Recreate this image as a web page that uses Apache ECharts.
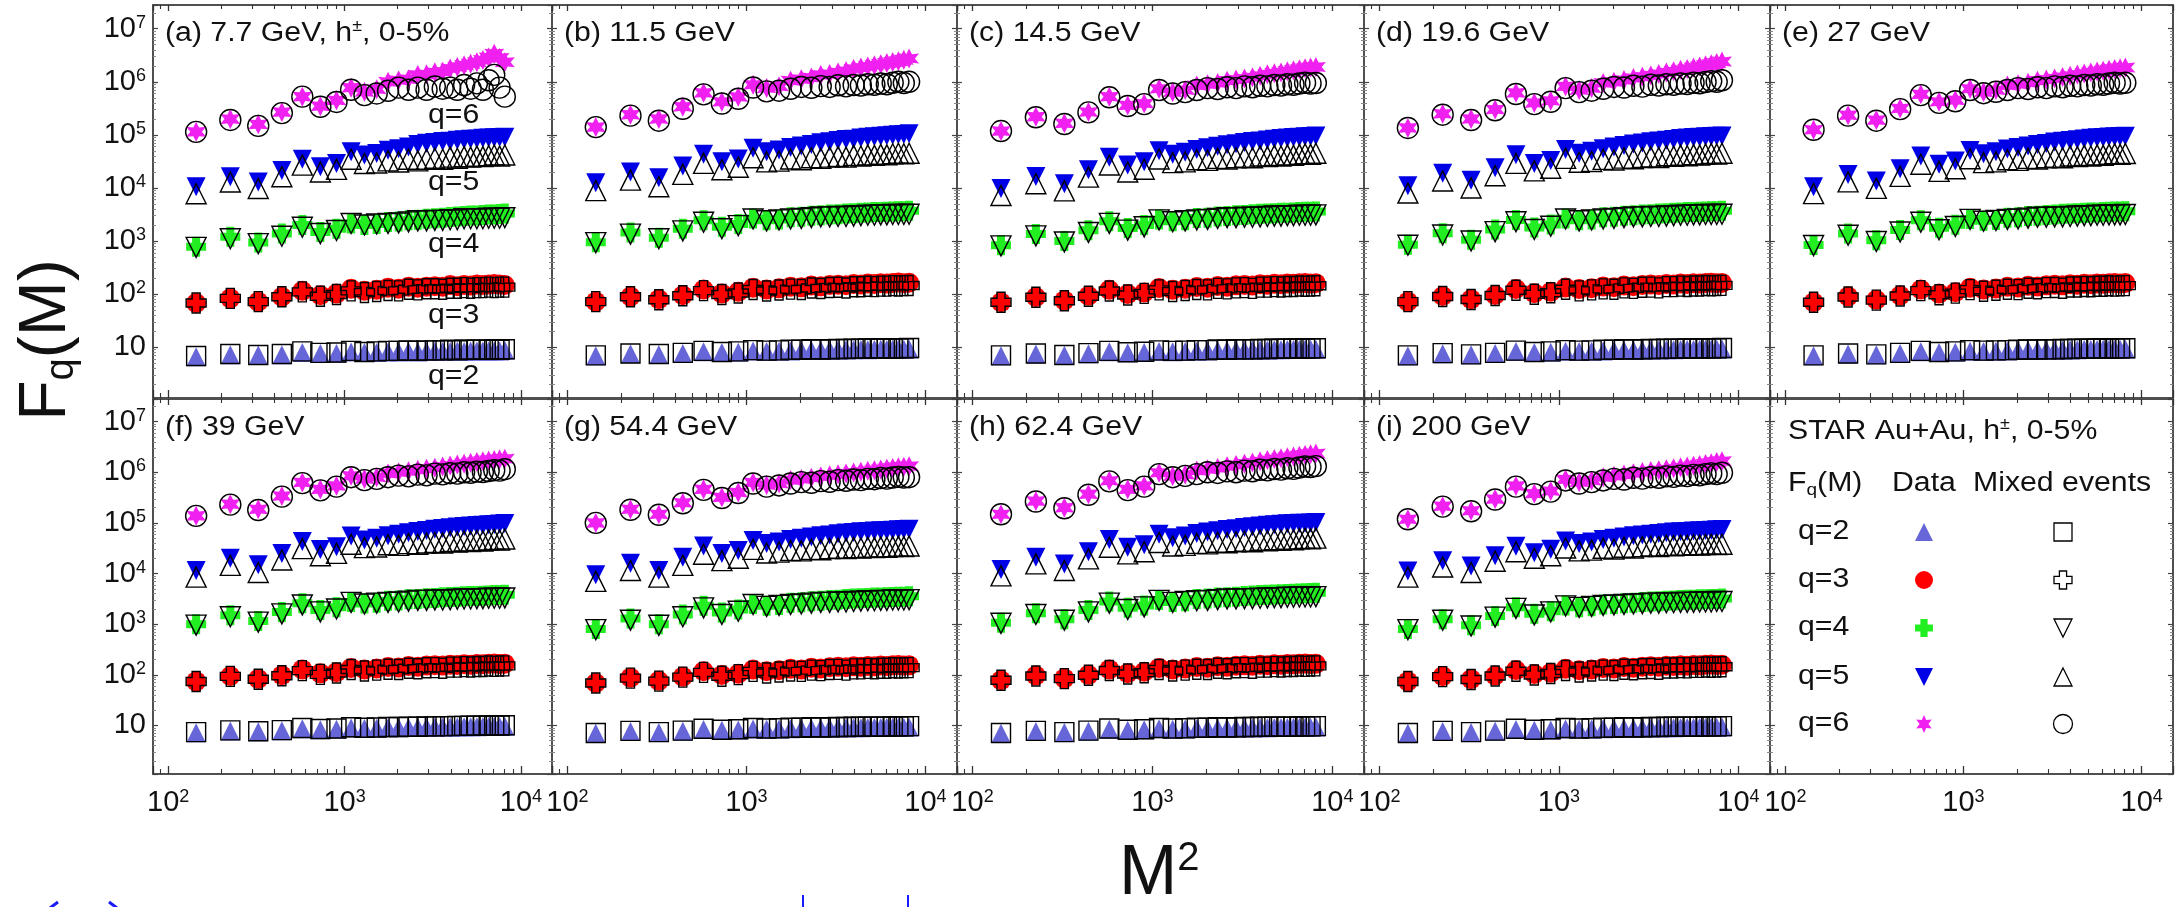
<!DOCTYPE html>
<html><head><meta charset="utf-8">
<script src="https://cdn.jsdelivr.net/npm/echarts@6/dist/echarts.min.js"></script>
<style>html,body{margin:0;padding:0;background:#fff}#c{width:2177px;height:907px}</style>
</head><body><div id="c"></div>
<script>
// ---------------- DATA ----------------
const M2 = [144,225,324,441,576,729,900,1089,1296,1521,1764,2025,2304,2601,2916,3249,3600,3969,4356,4761,5184,5625,6084,6561,7056,7569,8100];
const panelTitles = ['(a) 7.7 GeV, h{s|\u00b1}, 0-5%','(b) 11.5 GeV','(c) 14.5 GeV','(d) 19.6 GeV','(e) 27 GeV','(f) 39 GeV','(g) 54.4 GeV','(h) 62.4 GeV','(i) 200 GeV'];
const qNames = ['q=2','q=3','q=4','q=5','q=6'];

// (a) 7.7 GeV
const a_q2 = [6.6,7.2,7.1,7.2,7.9,7.6,7.6,8.1,7.9,7.9,8.1,8.1,8.3,8.1,8.3,8.3,8.3,8.3,8.5,8.3,8.5,8.5,8.5,8.5,8.5,8.5,8.7];
const a_q2m = [6.8,7.4,7.1,7.4,8.3,7.8,7.9,8.5,8.1,8.3,8.5,8.5,8.7,8.5,8.7,8.7,8.7,8.9,8.7,8.9,8.9,8.9,8.9,8.9,9.1,8.9,9.1];
const a_q3 = [68,83,72,89,115,95,102,126,115,120,132,126,138,132,138,141,138,148,141,148,145,151,148,151,155,151,148];
const a_q3m = [68,83,72,89,110,91,98,115,107,112,117,115,123,120,126,126,123,129,129,132,129,132,132,135,132,135,135];
const a_q4 = [776,1200,933,1380,2000,1480,1700,2140,2000,2090,2290,2340,2450,2510,2630,2690,2750,2820,2880,2950,3020,3020,3090,3160,3160,3240,3310];
const a_q4m = [759,1100,891,1230,1820,1380,1580,2140,2000,2090,2140,2190,2290,2400,2400,2450,2450,2510,2510,2630,2630,2630,2630,2690,2690,2690,2750];
const a_q5 = [10500,16200,12900,21400,34700,25100,28800,47900,41700,44700,51300,55000,58900,66100,69200,72000,75000,76000,79000,81000,83000,84000,86000,87000,88000,89000,90000];
const a_q5m = [7760,12900,9770,16200,26900,20000,22400,34700,28800,29500,32400,30900,34700,32400,34700,36300,34700,38000,36300,38900,38000,39800,38900,40700,41700,39800,41700];
const a_q6 = [114000,198000,158000,269000,525000,347000,447000,776000,646000,724000,1.0e6,1.07e6,1.12e6,1.35e6,1.38e6,1.51e6,1.55e6,1.78e6,1.91e6,2.04e6,2.19e6,2.34e6,2.57e6,2.88e6,3.39e6,2.82e6,2.34e6];
const a_q6m = [114000,191000,148000,257000,525000,339000,417000,708000,562000,603000,676000,776000,708000,776000,708000,813000,741000,776000,708000,871000,741000,933000,708000,1.07e6,1.35e6,776000,525000];
// (b) 11.5 GeV
const b_q2 = [6.9,7.5,7.3,7.6,8.2,7.9,8.0,8.5,8.3,8.4,8.5,8.6,8.7,8.7,8.8,8.8,8.9,8.9,9.0,8.9,9.0,9.1,9.0,9.1,9.2,9.1,9.2];
const b_q2m = [7.0,7.6,7.4,7.8,8.5,8.1,8.3,8.8,8.6,8.7,8.9,8.9,9.1,9.0,9.1,9.2,9.2,9.3,9.3,9.4,9.4,9.4,9.5,9.4,9.5,9.5,9.6];
const b_q3 = [72,90,80,95,122,102,110,132,122,128,138,134,145,140,148,150,147,155,152,158,155,160,158,162,165,160,163];
const b_q3m = [72,89,78,93,116,98,105,122,114,119,124,122,130,127,133,134,130,137,137,140,138,141,141,144,142,144,145];
const b_q4 = [950,1450,1150,1700,2450,1850,2100,2650,2450,2550,2800,2850,3000,3050,3150,3200,3300,3350,3400,3450,3500,3500,3550,3600,3650,3650,3700];
const b_q4m = [930,1350,1100,1550,2250,1700,1950,2600,2400,2500,2600,2650,2750,2850,2850,2900,2900,2950,3000,3050,3050,3100,3100,3150,3150,3150,3200];
const b_q5 = [12500,20000,15500,26000,43000,31000,35000,56000,48000,52000,58000,62000,66000,71000,74000,78000,82000,83000,87000,90000,92000,94000,96000,98000,100000,102000,105000];
const b_q5m = [8900,14000,10500,18000,29000,22000,24500,37000,31000,32000,35000,34000,37000,36000,38000,39000,38000,41000,40000,42000,41000,43000,42000,44000,45000,44000,45000];
const b_q6 = [140000,240000,200000,340000,620000,420000,520000,880000,760000,820000,1.05e6,1.12e6,1.2e6,1.35e6,1.4e6,1.5e6,1.6e6,1.75e6,1.85e6,1.95e6,2.05e6,2.15e6,2.25e6,2.35e6,2.45e6,2.6e6,2.75e6];
const b_q6m = [140000,230000,185000,310000,580000,390000,480000,780000,660000,680000,740000,800000,770000,830000,800000,860000,820000,870000,850000,900000,880000,930000,900000,960000,1.0e6,950000,1.0e6];
// (c) 14.5 GeV
const c_q2 = [6.9,7.4,7.0,7.5,8.2,7.8,7.9,8.3,8.2,8.3,8.4,8.5,8.6,8.6,8.7,8.7,8.8,8.8,8.8,8.9,8.9,9.0,9.0,9.0,9.1,9.1,9.1];
const c_q2m = [7.0,7.6,7.1,7.7,8.5,8.0,8.2,8.7,8.5,8.6,8.8,8.8,9.0,8.9,9.1,9.1,9.1,9.2,9.2,9.3,9.3,9.3,9.4,9.4,9.4,9.5,9.5];
const c_q3 = [70,88,76,93,120,100,107,130,120,126,136,132,142,138,146,148,145,153,150,156,153,158,156,160,162,158,160];
const c_q3m = [70,87,75,91,114,96,103,120,112,117,122,120,128,125,131,132,128,135,135,138,136,139,139,142,140,142,143];
const c_q4 = [830,1350,1000,1600,2350,1750,2000,2550,2350,2450,2700,2750,2900,2950,3050,3100,3200,3250,3300,3350,3400,3400,3450,3500,3550,3550,3600];
const c_q4m = [810,1250,960,1450,2150,1600,1850,2500,2300,2400,2500,2550,2650,2750,2750,2800,2800,2850,2900,2950,2950,3000,3000,3050,3050,3050,3100];
const c_q5 = [9800,16500,12000,22000,38000,27000,31000,50000,43000,47000,53000,57000,61000,65000,68000,72000,75000,77000,80000,83000,85000,87000,89000,90000,92000,93000,95000];
const c_q5m = [7200,12000,8800,16000,27000,20000,22500,35000,30000,31000,34000,33000,36000,35000,37000,38000,37000,40000,39000,41000,40000,42000,41000,43000,44000,43000,45000];
const c_q6 = [118000,220000,165000,270000,525000,360000,390000,740000,640000,700000,850000,900000,950000,1.05e6,1.1e6,1.15e6,1.22e6,1.3e6,1.38e6,1.45e6,1.5e6,1.58e6,1.65e6,1.72e6,1.8e6,1.85e6,1.9e6];
const c_q6m = [118000,215000,160000,265000,510000,350000,380000,700000,600000,640000,700000,760000,730000,790000,760000,820000,790000,840000,820000,870000,850000,900000,880000,930000,960000,930000,950000];
// (d) 19.6 GeV
const d_q2 = [6.9,7.5,7.2,7.6,8.3,7.9,8.0,8.4,8.3,8.4,8.5,8.6,8.7,8.7,8.8,8.8,8.9,8.9,8.9,9.0,9.0,9.0,9.1,9.1,9.1,9.2,9.2];
const d_q2m = [7.0,7.7,7.3,7.8,8.6,8.1,8.3,8.8,8.6,8.7,8.9,8.9,9.1,9.0,9.1,9.2,9.2,9.3,9.3,9.3,9.4,9.4,9.4,9.5,9.5,9.5,9.6];
const d_q3 = [72,92,80,96,125,104,110,133,124,129,139,135,145,141,148,151,148,155,152,158,155,160,158,162,164,160,162];
const d_q3m = [72,90,79,94,118,99,106,123,115,120,125,123,131,128,134,135,131,138,138,141,139,142,142,145,143,145,146];
const d_q4 = [850,1400,1050,1650,2500,1800,2050,2650,2450,2550,2800,2850,3000,3050,3150,3200,3300,3350,3400,3450,3500,3500,3550,3600,3650,3650,3700];
const d_q4m = [830,1300,1000,1500,2300,1650,1900,2600,2400,2500,2600,2650,2750,2850,2850,2900,2900,2950,3000,3050,3050,3100,3100,3150,3150,3150,3200];
const d_q5 = [11000,19000,14000,24000,42000,29000,33000,53000,45000,49000,55000,59000,63000,67000,70000,74000,77000,79000,82000,85000,87000,89000,90000,92000,93000,94000,95000];
const d_q5m = [8000,13500,10000,17000,29000,21000,23500,36000,30500,31500,34500,33500,36500,35500,37500,38500,37500,40500,39500,41500,40500,42500,41500,43500,44500,43500,45000];
const d_q6 = [135000,250000,200000,300000,620000,400000,440000,820000,700000,760000,950000,1.0e6,1.08e6,1.18e6,1.25e6,1.32e6,1.4e6,1.5e6,1.58e6,1.68e6,1.75e6,1.85e6,1.95e6,2.05e6,2.15e6,2.25e6,2.4e6];
const d_q6m = [135000,240000,190000,290000,590000,380000,420000,760000,640000,680000,740000,800000,780000,840000,810000,880000,850000,900000,880000,930000,910000,960000,940000,990000,1.03e6,1.0e6,1.07e6];
// (e) 27 GeV
const e_q2 = [6.9,7.4,7.2,7.6,8.2,7.9,8.0,8.4,8.3,8.4,8.5,8.6,8.7,8.7,8.8,8.8,8.8,8.9,8.9,9.0,9.0,9.0,9.1,9.1,9.1,9.1,9.2];
const e_q2m = [7.0,7.6,7.3,7.8,8.5,8.1,8.3,8.8,8.6,8.7,8.8,8.9,9.0,9.0,9.1,9.1,9.2,9.2,9.3,9.3,9.3,9.4,9.4,9.4,9.5,9.5,9.5];
const e_q3 = [70,90,78,94,122,102,108,131,122,127,137,133,143,139,146,149,146,153,150,156,153,158,156,160,162,158,161];
const e_q3m = [70,88,77,92,116,97,104,121,113,118,123,121,129,126,132,133,129,136,136,139,137,140,140,143,141,143,144];
const e_q4 = [840,1380,1030,1620,2450,1780,2030,2600,2400,2500,2750,2800,2950,3000,3100,3150,3250,3300,3350,3400,3450,3450,3500,3550,3600,3600,3650];
const e_q4m = [820,1280,980,1480,2250,1630,1880,2550,2350,2450,2550,2600,2700,2800,2800,2850,2850,2900,2950,3000,3000,3050,3050,3100,3100,3100,3150];
const e_q5 = [10500,18000,13500,23000,40000,28000,32000,51000,44000,48000,54000,58000,62000,66000,69000,73000,76000,78000,81000,84000,86000,88000,89000,91000,92000,93000,94000];
const e_q5m = [7800,13000,9800,16500,28000,20500,23000,35500,30000,31000,34000,33000,36000,35000,37000,38000,37000,40000,39000,41000,40000,42000,41000,43000,44000,43000,44500];
const e_q6 = [125000,235000,190000,315000,580000,420000,450000,740000,640000,700000,850000,900000,960000,1.05e6,1.1e6,1.16e6,1.23e6,1.3e6,1.37e6,1.43e6,1.5e6,1.56e6,1.62e6,1.68e6,1.74e6,1.8e6,1.85e6];
const e_q6m = [125000,230000,185000,305000,560000,400000,430000,700000,610000,650000,700000,760000,730000,790000,760000,820000,790000,840000,820000,870000,850000,900000,880000,930000,960000,930000,960000];
// (f) 39 GeV
const f_q2 = [7.2,7.8,7.5,7.9,8.6,8.2,8.4,8.9,8.7,8.8,9.0,9.0,9.1,9.1,9.2,9.2,9.3,9.3,9.3,9.4,9.4,9.4,9.5,9.5,9.5,9.5,9.6];
const f_q2m = [7.4,8.0,7.7,8.1,8.9,8.5,8.7,9.2,9.0,9.1,9.3,9.3,9.5,9.4,9.6,9.6,9.7,9.7,9.8,9.8,9.9,9.9,9.9,10.0,10.0,10.0,10.1];
const f_q3 = [74,95,83,98,128,107,113,137,128,133,143,139,149,145,152,155,152,159,156,162,159,164,162,166,168,164,166];
const f_q3m = [74,93,82,96,121,102,109,127,119,124,129,127,135,132,138,139,135,142,142,145,143,146,146,149,147,149,150];
const f_q4 = [1000,1500,1150,1750,2600,1900,2150,2750,2550,2650,2900,2950,3100,3150,3250,3300,3400,3450,3500,3550,3600,3600,3650,3700,3750,3750,3800];
const f_q4m = [960,1400,1100,1600,2400,1750,2000,2700,2500,2600,2700,2750,2850,2950,2950,3000,3000,3050,3100,3150,3150,3200,3200,3250,3250,3250,3300];
const f_q5 = [11500,20000,15000,25000,43000,30000,34000,55000,46000,50000,56000,60000,64000,68000,71000,75000,78000,80000,83000,85000,87000,89000,90000,92000,93000,95000,97000];
const f_q5m = [8500,14500,10500,18500,31000,22500,25000,38000,32500,33500,37000,36000,39000,38000,40000,41000,40000,43000,42000,44000,43000,45000,44000,46000,47000,46000,48000];
const f_q6 = [138000,235000,186000,340000,630000,460000,540000,850000,740000,800000,950000,1.0e6,1.05e6,1.12e6,1.18e6,1.23e6,1.3e6,1.36e6,1.42e6,1.48e6,1.54e6,1.6e6,1.65e6,1.7e6,1.75e6,1.8e6,1.85e6];
const f_q6m = [138000,230000,180000,330000,610000,440000,520000,800000,700000,740000,800000,860000,830000,900000,870000,940000,910000,960000,940000,1.0e6,980000,1.03e6,1.01e6,1.06e6,1.1e6,1.08e6,1.15e6];
// (g) 54.4 GeV
const g_q2 = [7.0,7.6,7.3,7.7,8.3,8.0,8.1,8.5,8.4,8.5,8.6,8.7,8.8,8.8,8.9,8.9,9.0,9.0,9.0,9.1,9.1,9.1,9.2,9.2,9.2,9.2,9.3];
const g_q2m = [7.1,7.8,7.4,7.9,8.6,8.2,8.4,8.9,8.7,8.8,9.0,9.0,9.2,9.1,9.2,9.3,9.3,9.4,9.4,9.4,9.5,9.5,9.5,9.6,9.6,9.6,9.7];
const g_q3 = [69,88,76,92,118,99,105,127,118,123,132,128,138,134,141,144,141,147,145,150,147,152,150,154,156,152,154];
const g_q3m = [69,86,75,90,112,94,101,117,109,114,119,117,124,121,127,128,124,131,131,134,132,135,135,138,136,138,139];
const g_q4 = [800,1300,1000,1550,2300,1700,1950,2500,2300,2400,2650,2700,2850,2900,3000,3050,3150,3200,3250,3300,3350,3350,3400,3450,3500,3500,3550];
const g_q4m = [780,1200,950,1400,2100,1550,1800,2450,2250,2350,2450,2500,2600,2700,2700,2750,2750,2800,2850,2900,2900,2950,2950,3000,3000,3000,3050];
const g_q5 = [9500,16000,11500,21000,35000,25000,28500,45000,39000,42000,47000,50000,53000,56000,58000,61000,63000,65000,67000,68000,69000,70000,71000,72000,73000,74000,75000];
const g_q5m = [7000,11500,8500,14500,24000,18000,20000,30000,25500,26500,28500,28000,30000,29500,31000,31500,31000,32500,32000,33000,32500,33500,33000,34000,34500,34000,35000];
const g_q6 = [100000,186000,148000,250000,460000,320000,400000,630000,560000,600000,700000,740000,780000,830000,870000,910000,950000,990000,1.03e6,1.07e6,1.1e6,1.14e6,1.18e6,1.21e6,1.25e6,1.28e6,1.32e6];
const g_q6m = [100000,182000,145000,245000,450000,310000,390000,600000,520000,550000,600000,640000,620000,670000,650000,700000,680000,720000,700000,740000,730000,770000,750000,790000,810000,790000,800000];
// (h) 62.4 GeV
const h_q2 = [7.0,7.6,7.3,7.7,8.4,8.0,8.2,8.6,8.4,8.5,8.7,8.7,8.8,8.8,8.9,8.9,9.0,9.0,9.0,9.1,9.1,9.1,9.2,9.2,9.2,9.2,9.3];
const h_q2m = [7.1,7.8,7.4,7.9,8.7,8.2,8.4,8.9,8.7,8.8,9.0,9.0,9.2,9.1,9.2,9.3,9.3,9.4,9.4,9.4,9.5,9.5,9.5,9.6,9.6,9.6,9.7];
const h_q3 = [78,97,85,100,128,108,115,137,128,133,142,138,148,144,151,154,151,158,155,161,158,163,161,165,167,163,165];
const h_q3m = [78,95,84,98,122,104,110,127,119,124,129,127,135,132,138,139,135,142,142,145,143,146,146,149,147,149,150];
const h_q4 = [1070,1650,1250,1900,2800,2100,2350,3000,2750,2850,3150,3200,3350,3400,3500,3600,3700,3750,3800,3850,3900,3950,4000,4050,4100,4150,4200];
const h_q4m = [1040,1550,1200,1750,2600,1950,2200,2950,2700,2800,2900,2950,3050,3150,3150,3200,3200,3250,3300,3350,3350,3400,3400,3450,3450,3450,3500];
const h_q5 = [12000,21000,15500,27000,47000,33000,37000,60000,51000,55000,62000,66000,70000,74000,77000,81000,84000,87000,90000,92000,94000,96000,97000,98000,99000,100000,102000];
const h_q5m = [9000,15500,11500,19500,33000,24500,27000,41000,35000,36000,39500,38500,41500,40500,42500,43500,42500,45500,44500,46500,45500,47500,46500,48500,49500,48500,50000];
const h_q6 = [148000,270000,200000,370000,680000,460000,540000,980000,840000,900000,1.08e6,1.15e6,1.22e6,1.32e6,1.4e6,1.48e6,1.56e6,1.65e6,1.74e6,1.82e6,1.9e6,1.98e6,2.05e6,2.12e6,2.2e6,2.28e6,2.35e6];
const h_q6m = [148000,265000,195000,360000,660000,445000,520000,920000,800000,850000,920000,1.0e6,970000,1.04e6,1.0e6,1.08e6,1.05e6,1.12e6,1.09e6,1.16e6,1.13e6,1.2e6,1.17e6,1.24e6,1.3e6,1.27e6,1.32e6];
// (i) 200 GeV
const i_q2 = [7.0,7.6,7.3,7.7,8.3,8.0,8.1,8.5,8.4,8.5,8.6,8.7,8.8,8.8,8.9,8.9,9.0,9.0,9.0,9.1,9.1,9.1,9.2,9.2,9.2,9.2,9.3];
const i_q2m = [7.1,7.8,7.4,7.9,8.6,8.2,8.4,8.9,8.7,8.8,9.0,9.0,9.2,9.1,9.2,9.3,9.3,9.4,9.4,9.4,9.5,9.5,9.5,9.6,9.6,9.6,9.7];
const i_q3 = [74,94,82,97,124,104,110,132,123,128,137,133,142,138,145,148,145,151,149,154,151,156,154,158,160,156,158];
const i_q3m = [74,92,81,95,118,99,106,122,114,119,124,122,129,126,132,133,129,136,136,139,137,140,140,143,141,143,144];
const i_q4 = [800,1250,950,1450,2150,1600,1800,2350,2150,2250,2450,2500,2600,2650,2750,2800,2850,2900,2950,3000,3050,3050,3100,3100,3150,3150,3200];
const i_q4m = [780,1200,920,1380,2050,1520,1750,2300,2150,2250,2350,2400,2450,2500,2550,2600,2600,2650,2650,2700,2700,2700,2750,2750,2750,2800,2800];
const i_q5 = [11200,17800,14100,22400,34700,25700,30200,44000,39000,42000,47000,50000,53000,56000,58000,60000,62000,64000,66000,67000,68000,69000,70000,71000,72000,73000,74000];
const i_q5m = [8500,13500,10500,17500,27000,20000,22500,32000,28000,29000,31500,30500,33000,32000,34000,35000,34000,36000,35500,36500,36000,37000,36500,37500,38000,37500,38000];
const i_q6 = [118000,214000,174000,295000,537000,380000,427000,724000,640000,690000,800000,850000,900000,960000,1.01e6,1.06e6,1.1e6,1.15e6,1.2e6,1.25e6,1.3e6,1.35e6,1.4e6,1.45e6,1.5e6,1.6e6,1.66e6];
const i_q6m = [118000,210000,170000,290000,520000,370000,415000,690000,600000,640000,690000,740000,720000,780000,750000,800000,780000,830000,810000,860000,840000,890000,870000,920000,950000,920000,980000];

// ---------------- LAYOUT / STYLE ----------------
const FONT = "'Liberation Sans', Arial, Helvetica, sans-serif";
const TXT = '#111';
const SX = 1.12; // horizontal stretch of the reference lettering
const colLeft = [153, 552, 957, 1364, 1770];
const colRight = [552, 957, 1364, 1770, 2173];
const rowTop = [5, 399];
const rowBottom = [398, 774];
const X_MIN = 82, X_MAX = 15000, Y_MIN = 1.1, Y_MAX = 2.8e7;
const CROSS = 'path://M3,0H7V3H10V7H7V10H3V7H0V3H3Z';
const STAR = 'path://M10,0L12.5,5.67L18.66,5L15,10L18.66,15L12.5,14.33L10,20L7.5,14.33L1.34,15L5,10L1.34,5L7.5,5.67Z';
const qColors = ['#6666d8', '#ff0000', '#22ee22', '#0000e6', '#f020f0'];
const dataSym = [
  { symbol: 'triangle', size: 19, rotate: 0 },
  { symbol: 'circle', size: 20, rotate: 0 },
  { symbol: CROSS, size: 20, rotate: 0 },
  { symbol: 'triangle', size: 19, rotate: 180 },
  { symbol: STAR, size: 20, rotate: 0 }
];
const mixSym = [
  { symbol: 'rect', size: 19, rotate: 0 },
  { symbol: CROSS, size: 20, rotate: 0 },
  { symbol: 'triangle', size: 20, rotate: 180 },
  { symbol: 'triangle', size: 20, rotate: 0 },
  { symbol: 'circle', size: 21, rotate: 0 }
];

const panels = [
  { d: [a_q2, a_q3, a_q4, a_q5, a_q6], m: [a_q2m, a_q3m, a_q4m, a_q5m, a_q6m] },
  { d: [b_q2, b_q3, b_q4, b_q5, b_q6], m: [b_q2m, b_q3m, b_q4m, b_q5m, b_q6m] },
  { d: [c_q2, c_q3, c_q4, c_q5, c_q6], m: [c_q2m, c_q3m, c_q4m, c_q5m, c_q6m] },
  { d: [d_q2, d_q3, d_q4, d_q5, d_q6], m: [d_q2m, d_q3m, d_q4m, d_q5m, d_q6m] },
  { d: [e_q2, e_q3, e_q4, e_q5, e_q6], m: [e_q2m, e_q3m, e_q4m, e_q5m, e_q6m] },
  { d: [f_q2, f_q3, f_q4, f_q5, f_q6], m: [f_q2m, f_q3m, f_q4m, f_q5m, f_q6m] },
  { d: [g_q2, g_q3, g_q4, g_q5, g_q6], m: [g_q2m, g_q3m, g_q4m, g_q5m, g_q6m] },
  { d: [h_q2, h_q3, h_q4, h_q5, h_q6], m: [h_q2m, h_q3m, h_q4m, h_q5m, h_q6m] },
  { d: [i_q2, i_q3, i_q4, i_q5, i_q6], m: [i_q2m, i_q3m, i_q4m, i_q5m, i_q6m] }
];

const RICH = {
  b: { fontSize: 29, fontFamily: FONT, color: TXT, lineHeight: 30 },
  s: { fontSize: 18, fontFamily: FONT, color: TXT, verticalAlign: 'top', lineHeight: 18 }
};
function powLabel(v) {
  const l = Math.log10(v), e = Math.round(l);
  if (Math.abs(l - e) > 1e-6) return '';
  if (e === 1) return '{b|10}';
  return '{b|10}{s|' + e + '}';
}
const AXC = '#505050';
function xAxisCfg(k, pos, labels) {
  const bottom = pos === 'bottom';
  return {
    type: 'log', logBase: 10, gridIndex: k, position: pos, min: X_MIN, max: X_MAX, silent: true,
    axisLine: { show: true, onZero: false, lineStyle: { color: AXC, width: 2 } },
    axisTick: { show: true, inside: true, length: bottom ? 8 : 6, lineStyle: { color: '#333', width: 1.3 } },
    minorTick: { show: true, splitNumber: 9, length: bottom ? 5 : 4, lineStyle: { color: '#333', width: 1.1 } },
    splitLine: { show: false }, minorSplitLine: { show: false },
    axisLabel: { show: labels, formatter: powLabel, margin: 14, showMinLabel: false, showMaxLabel: false, rich: RICH, color: TXT }
  };
}
function yAxisCfg(k, pos, labels) {
  return {
    type: 'log', logBase: 10, gridIndex: k, position: pos, min: Y_MIN, max: Y_MAX, silent: true,
    axisLine: { show: true, onZero: false, lineStyle: { color: AXC, width: 2 } },
    axisTick: { show: true, inside: true, length: 5, lineStyle: { color: '#444', width: 1.2 } },
    minorTick: { show: true, splitNumber: 9, length: 3, lineStyle: { color: '#888', width: 1 } },
    splitLine: { show: false }, minorSplitLine: { show: false },
    axisLabel: { show: labels, formatter: powLabel, margin: 7, showMinLabel: false, showMaxLabel: false, rich: RICH, color: TXT }
  };
}

const grids = [], xAxes = [], yAxes = [];
for (let r = 0; r < 2; r++) {
  for (let c = 0; c < 5; c++) {
    const k = r * 5 + c;
    grids.push({ left: colLeft[c], top: rowTop[r], width: colRight[c] - colLeft[c], height: rowBottom[r] - rowTop[r], containLabel: false, outerBoundsMode: 'none' });
    xAxes.push(xAxisCfg(k, 'bottom', r === 1));
    xAxes.push(xAxisCfg(k, 'top', false));
    yAxes.push(yAxisCfg(k, 'left', c === 0));
    yAxes.push(yAxisCfg(k, 'right', false));
  }
}

const series = [];
panels.forEach((p, k) => {
  for (let q = 0; q < 5; q++) {
    series.push({
      type: 'scatter', name: qNames[q] + ' data', xAxisIndex: 2 * k, yAxisIndex: 2 * k,
      symbol: dataSym[q].symbol, symbolSize: dataSym[q].size, symbolRotate: dataSym[q].rotate,
      itemStyle: { color: qColors[q], opacity: 1 }, silent: true, z: 2,
      data: M2.map((x, i) => [x, p.d[q][i]])
    });
  }
  for (let q = 0; q < 5; q++) {
    series.push({
      type: 'scatter', name: qNames[q] + ' mixed', xAxisIndex: 2 * k, yAxisIndex: 2 * k,
      symbol: mixSym[q].symbol, symbolSize: mixSym[q].size, symbolRotate: mixSym[q].rotate,
      itemStyle: { color: 'rgba(0,0,0,0)', borderColor: '#000', borderWidth: 1.4, opacity: 1 }, silent: true, z: 3,
      data: M2.map((x, i) => [x, p.m[q][i]])
    });
  }
});

// ---------------- GRAPHIC TEXT / LEGEND ----------------
const SUPR = { s: { fontSize: 16, fontFamily: FONT, fill: TXT, verticalAlign: 'top', lineHeight: 16 } };
function txt(x, y, text, size) {
  return {
    type: 'text', x: x, y: y, scaleX: SX, silent: true, z: 10,
    style: { text: text, fontSize: size, fontFamily: FONT, fill: TXT, align: 'left', verticalAlign: 'middle', lineHeight: 30, rich: SUPR }
  };
}
const graphics = [];
panelTitles.forEach((t, p) => {
  const r = Math.floor(p / 5), c = p % 5;
  graphics.push(txt(colLeft[c] + 12, rowTop[r] + 29, t, 27));
});
// q labels in panel (a)
const qLabelY = [377, 316, 245, 183, 116];
qNames.forEach((n, q) => graphics.push(txt(428, qLabelY[q], n, 27)));
// axis titles
graphics.push({
  type: 'text', x: 47, y: 340, rotation: Math.PI / 2, silent: true,
  style: { text: 'F{q|q}(M)', fontSize: 66, fontFamily: FONT, fill: TXT, align: 'center', verticalAlign: 'middle', lineHeight: 70,
    rich: { q: { fontSize: 40, fontFamily: FONT, fill: TXT, verticalAlign: 'bottom', lineHeight: 56 } } }
});
graphics.push({
  type: 'text', x: 1119, y: 875, silent: true,
  style: { text: 'M{s|2}', fontSize: 70, fontFamily: FONT, fill: TXT, align: 'left', verticalAlign: 'middle', lineHeight: 72,
    rich: { s: { fontSize: 40, fontFamily: FONT, fill: TXT, verticalAlign: 'top', lineHeight: 40 } } }
});
// legend panel
graphics.push(txt(1788, 432, 'STAR Au+Au, h{s|\u00b1}, 0-5%', 27));
graphics.push({
  type: 'text', x: 1788, y: 484, scaleX: SX, silent: true,
  style: { text: 'F{q|q}(M)', fontSize: 27, fontFamily: FONT, fill: TXT, align: 'left', verticalAlign: 'middle', lineHeight: 30,
    rich: { q: { fontSize: 17, fontFamily: FONT, fill: TXT, verticalAlign: 'bottom', lineHeight: 24 } } }
});
graphics.push(txt(1892, 484, 'Data', 27));
graphics.push(txt(1973, 484, 'Mixed events', 27));
const legY = [532, 580, 628, 677, 724];
const LDX = 1924, LMX = 2063;
qNames.forEach((n, q) => graphics.push(txt(1798, legY[q], n, 27)));

function triPts(cx, cy, s, down) {
  const h = s / 2;
  return down ? [[cx - h, cy - h], [cx + h, cy - h], [cx, cy + h]] : [[cx, cy - h], [cx + h, cy + h], [cx - h, cy + h]];
}
function crossPts(cx, cy, s) {
  const a = s * 0.2, h = s / 2;
  return [[cx - a, cy - h], [cx + a, cy - h], [cx + a, cy - a], [cx + h, cy - a], [cx + h, cy + a], [cx + a, cy + a],
          [cx + a, cy + h], [cx - a, cy + h], [cx - a, cy + a], [cx - h, cy + a], [cx - h, cy - a], [cx - a, cy - a]];
}
function starPts(cx, cy, s) {
  const pts = [], R = s / 2, r0 = s / 4;
  for (let i = 0; i < 12; i++) {
    const ang = -Math.PI / 2 + i * Math.PI / 6, rr = i % 2 === 0 ? R : r0;
    pts.push([cx + rr * Math.cos(ang), cy + rr * Math.sin(ang)]);
  }
  return pts;
}
const hollow = { fill: 'none', stroke: '#000', lineWidth: 1.3 };
graphics.push({ type: 'polygon', silent: true, shape: { points: triPts(LDX, legY[0], 18, false) }, style: { fill: qColors[0] } });
graphics.push({ type: 'rect', silent: true, shape: { x: LMX - 9, y: legY[0] - 9, width: 18, height: 18 }, style: hollow });
graphics.push({ type: 'circle', silent: true, shape: { cx: LDX, cy: legY[1], r: 9 }, style: { fill: qColors[1] } });
graphics.push({ type: 'polygon', silent: true, shape: { points: crossPts(LMX, legY[1], 18) }, style: hollow });
graphics.push({ type: 'polygon', silent: true, shape: { points: crossPts(LDX, legY[2], 18) }, style: { fill: qColors[2] } });
graphics.push({ type: 'polygon', silent: true, shape: { points: triPts(LMX, legY[2], 18, true) }, style: hollow });
graphics.push({ type: 'polygon', silent: true, shape: { points: triPts(LDX, legY[3], 18, true) }, style: { fill: qColors[3] } });
graphics.push({ type: 'polygon', silent: true, shape: { points: triPts(LMX, legY[3], 18, false) }, style: hollow });
graphics.push({ type: 'polygon', silent: true, shape: { points: starPts(LDX, legY[4], 18) }, style: { fill: qColors[4] } });
graphics.push({ type: 'circle', silent: true, shape: { cx: LMX, cy: legY[4], r: 9.5 }, style: hollow });
// blue fragments at the bottom edge
const blue = { stroke: '#1a1aff', lineWidth: 3 };
graphics.push({ type: 'polyline', silent: true, shape: { points: [[58, 902], [50, 908]] }, style: blue });
graphics.push({ type: 'polyline', silent: true, shape: { points: [[109, 902], [117, 908]] }, style: blue });
graphics.push({ type: 'line', silent: true, shape: { x1: 803, y1: 895, x2: 803, y2: 907 }, style: { stroke: '#1a1aff', lineWidth: 2 } });
graphics.push({ type: 'line', silent: true, shape: { x1: 908, y1: 895, x2: 908, y2: 907 }, style: { stroke: '#1a1aff', lineWidth: 2 } });

const chart = echarts.init(document.getElementById('c'), null, { renderer: 'canvas' });
chart.setOption({
  backgroundColor: '#ffffff',
  animation: false,
  textStyle: { fontFamily: FONT },
  grid: grids,
  xAxis: xAxes,
  yAxis: yAxes,
  series: series,
  graphic: { elements: graphics }
});
</script>
</body></html>
